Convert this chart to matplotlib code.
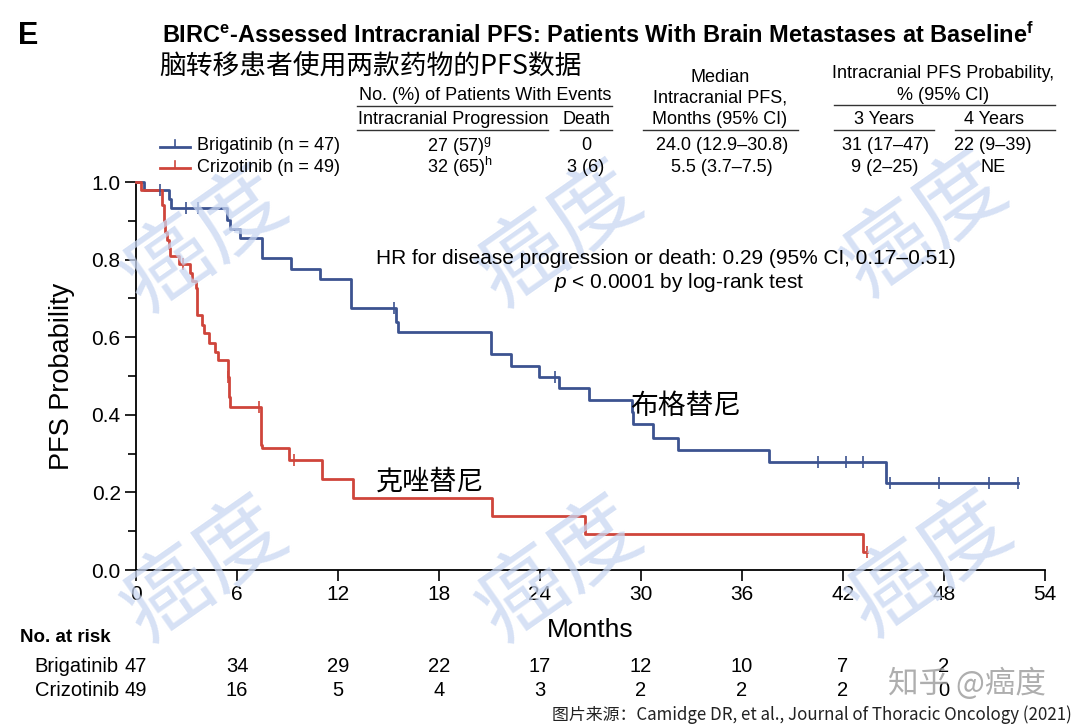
import numpy as np
import matplotlib
matplotlib.use("Agg")
import matplotlib.pyplot as plt
from matplotlib.lines import Line2D
import matplotlib.transforms as mtransforms

plt.rcParams['font.family'] = ['Liberation Sans', 'Noto Sans CJK SC', 'DejaVu Sans']
plt.rcParams['mathtext.fontset'] = 'custom'
plt.rcParams['mathtext.rm'] = 'Liberation Sans'
plt.rcParams['mathtext.bf'] = 'Liberation Sans:bold'
plt.rcParams['mathtext.it'] = 'Liberation Sans:italic'

# ---------------- data ----------------
brig_t = [0, 0.5, 1.95, 2.05, 5.43, 5.6, 6.2, 7.48, 9.2, 10.95, 12.77, 15.45, 15.55,
          21.06, 22.3, 23.95, 25.1, 26.9, 29.45, 29.55, 30.7, 32.2, 37.6, 44.55, 52.4]
brig_s = [1.0, 0.979, 0.955, 0.932, 0.902, 0.878, 0.855, 0.803, 0.776, 0.749, 0.674, 0.64, 0.613,
          0.557, 0.525, 0.497, 0.469, 0.438, 0.408, 0.376, 0.341, 0.309, 0.279, 0.223, 0.223]
brig_cens = [1.4, 2.96, 3.69, 15.3, 24.9, 40.5, 42.2, 43.2, 44.8, 47.7, 50.7, 52.4]

criz_t = [0, 0.3, 1.55, 1.65, 1.75, 1.85, 1.95, 2.0, 2.56, 3.19, 3.35, 3.59, 3.62, 3.95, 4.05,
          4.34, 4.68, 4.9, 5.49, 5.52, 5.58, 7.42, 7.45, 7.5, 9.1, 11.05, 12.87, 21.14, 26.7,
          43.2, 43.4]
criz_s = [1.0, 0.98, 0.94, 0.90, 0.87, 0.85, 0.83, 0.809, 0.788, 0.765, 0.745, 0.726, 0.657, 0.631, 0.61,
          0.584, 0.563, 0.541, 0.498, 0.447, 0.421, 0.387, 0.322, 0.314, 0.284, 0.234, 0.186, 0.139, 0.093,
          0.046, 0.046]
criz_cens = [2.8, 5.49, 7.32, 9.4, 43.4]

xticks = [0, 6, 12, 18, 24, 30, 36, 42, 48, 54]
yticks = [0.0, 0.2, 0.4, 0.6, 0.8, 1.0]
risk_times = [0, 6, 12, 18, 24, 30, 36, 42, 48]
brig_risk = [47, 34, 29, 22, 17, 12, 10, 7, 2]
criz_risk = [49, 16, 5, 4, 3, 2, 2, 2, 0]

BLUE = '#3c5390'
RED = '#cf453b'
W, H = 1080, 727

fig = plt.figure(figsize=(W / 100, H / 100), dpi=100)
ax = fig.add_axes([136 / W, 1 - 570 / H, (1045 - 136) / W, (570 - 182) / H])


def fx(x):
    return x / W


def fy(y):
    return 1 - y / H


def step_val(ts, ss, t):
    idx = np.searchsorted(ts, t, side='right') - 1
    return ss[max(idx, 0)]


# watermarks
wm_pos = [(205, 240), (560, 235), (925, 225), (205, 570), (560, 570), (930, 565)]
for (wx, wy) in wm_pos:
    fig.text(fx(wx), fy(wy), "癌度", fontsize=64, color='#c9d7f2', rotation=35,
             ha='center', va='center', family=['Noto Sans CJK SC'], zorder=0, alpha=0.75)

ax.set_facecolor('none')
ax.step(brig_t, brig_s, where='post', color=BLUE, lw=2.0, zorder=3, clip_on=False)
ax.step(criz_t, criz_s, where='post', color=RED, lw=2.0, zorder=3, clip_on=False)
ax.plot(brig_cens, [step_val(brig_t, brig_s, t) for t in brig_cens], ls='none', marker='|',
        ms=8, mew=1.2, color=BLUE, zorder=4, clip_on=False)
ax.plot(criz_cens, [step_val(criz_t, criz_s, t) for t in criz_cens], ls='none', marker='|',
        ms=8, mew=1.2, color=RED, zorder=4, clip_on=False)

ax.set_xlim(0, 54)
ax.set_ylim(0, 1.0)
ax.set_xticks(xticks)
ax.set_yticks(yticks)
ax.set_yticks(np.arange(0.1, 1.0, 0.2), minor=True)
ax.set_xticklabels([str(v) for v in xticks], fontsize=15)
ax.set_yticklabels([f"{v:.1f}" for v in yticks], fontsize=15)
ax.tick_params(axis='both', which='major', direction='out', length=8, width=1.2, pad=3)
ax.tick_params(axis='y', which='minor', direction='out', length=6, width=1.2)
for s in ['top', 'right']:
    ax.spines[s].set_visible(False)
for s in ['left', 'bottom']:
    ax.spines[s].set_linewidth(1.3)
ax.set_xlabel("Months", fontsize=19, labelpad=10)
ax.set_ylabel("PFS Probability", fontsize=19.5, labelpad=12)

# annotations in plot
fig.text(fx(666), fy(258), "HR for disease progression or death: 0.29 (95% CI, 0.17\u20130.51)",
         fontsize=15, ha='center', va='center')
fig.text(fx(679), fy(283), r"$\mathit{p}$ < 0.0001 by log-rank test", fontsize=15,
         ha='center', va='center')
fig.text(fx(630), fy(406), "布格替尼", fontsize=20, ha='left', va='center',
         family=['Noto Sans CJK SC'])
fig.text(fx(376), fy(482), "克唑替尼", fontsize=19.5, ha='left', va='center',
         family=['Noto Sans CJK SC'])

# title area
fig.text(fx(18), fy(36), "E", fontsize=22, fontweight='bold', ha='left', va='center')
fig.text(fx(162), fy(35),
         r"BIRC$^{\mathbf{e}}$-Assessed Intracranial PFS: Patients With Brain Metastases at Baseline$^{\mathbf{f}}$",
         fontsize=16.9, fontweight='bold', ha='left', va='center')
fig.text(fx(159), fy(66), "脑转移患者使用两款药物的PFS数据", fontsize=19.3, ha='left', va='center',
         family=['Noto Sans CJK SC'])

hfs = 13


def htext(x, y, s, **kw):
    fig.text(fx(x), fy(y), s, fontsize=hfs, ha='center', va='center', **kw)


def hline(x0, x1, y):
    fig.add_artist(Line2D([fx(x0), fx(x1)], [fy(y), fy(y)], color='#333333', lw=1.0))


htext(485, 96, "No. (%) of Patients With Events")
hline(357, 612, 106)
htext(453, 119, "Intracranial Progression")
hline(357, 548, 130)
htext(586, 119, "Death")
hline(560, 612, 130)
htext(720, 77, "Median")
htext(720, 98, "Intracranial PFS,")
htext(720, 119, "Months (95% CI)")
hline(643, 798, 130)
htext(943, 74, "Intracranial PFS Probability,")
htext(943, 95, "% (95% CI)")
hline(834, 1055, 105)
htext(884, 119, "3 Years")
hline(834, 934, 130)
htext(994, 119, "4 Years")
hline(955, 1055, 130)

rows = [
    (146, BLUE, "Brigatinib (n = 47)", r"27 (57)$^{\mathrm{g}}$", "0", "24.0 (12.9\u201330.8)", "31 (17\u201347)", "22 (9\u201339)"),
    (167, RED, "Crizotinib (n = 49)", r"32 (65)$^{\mathrm{h}}$", "3 (6)", "5.5 (3.7\u20137.5)", "9 (2\u201325)", "NE"),
]
for (ry, col, lab, prog, death, med, y3, y4) in rows:
    fig.add_artist(Line2D([fx(160), fx(190)], [fy(ry + 1), fy(ry + 1)], color=col, lw=2.0))
    fig.add_artist(Line2D([fx(175), fx(175)], [fy(ry + 1), fy(ry - 6)], color=col, lw=1.2))
    fig.text(fx(197), fy(ry), lab, fontsize=hfs, ha='left', va='center')
    htext(460, ry, prog)
    htext(586, ry, death)
    htext(722, ry, med)
    htext(885, ry, y3)
    htext(993, ry, y4)

# number at risk
fig.text(fx(20), fy(637), "No. at risk", fontsize=13.5, fontweight='bold', ha='left', va='center')
trans = mtransforms.blended_transform_factory(ax.transData, fig.transFigure)
for (ry, lab, vals) in [(666, "Brigatinib", brig_risk), (690, "Crizotinib", criz_risk)]:
    fig.text(fx(119), fy(ry), lab, fontsize=14.5, ha='right', va='center')
    for t, v in zip(risk_times, vals):
        ax.text(t, fy(ry), str(v), transform=trans, fontsize=14.5, ha='center', va='center',
                clip_on=False)

fig.text(fx(888), fy(684), "知乎 @癌度", fontsize=22, color='#9a9a9a', ha='left', va='center',
         family=['Noto Sans CJK SC'], alpha=0.8)
fig.text(fx(1072), fy(715), "图片来源：Camidge DR, et al., Journal of Thoracic Oncology (2021)",
         fontsize=12.2, ha='right', va='center', family=['Noto Sans CJK SC'], color='#222222')

fig.savefig("out.png", dpi=100)
